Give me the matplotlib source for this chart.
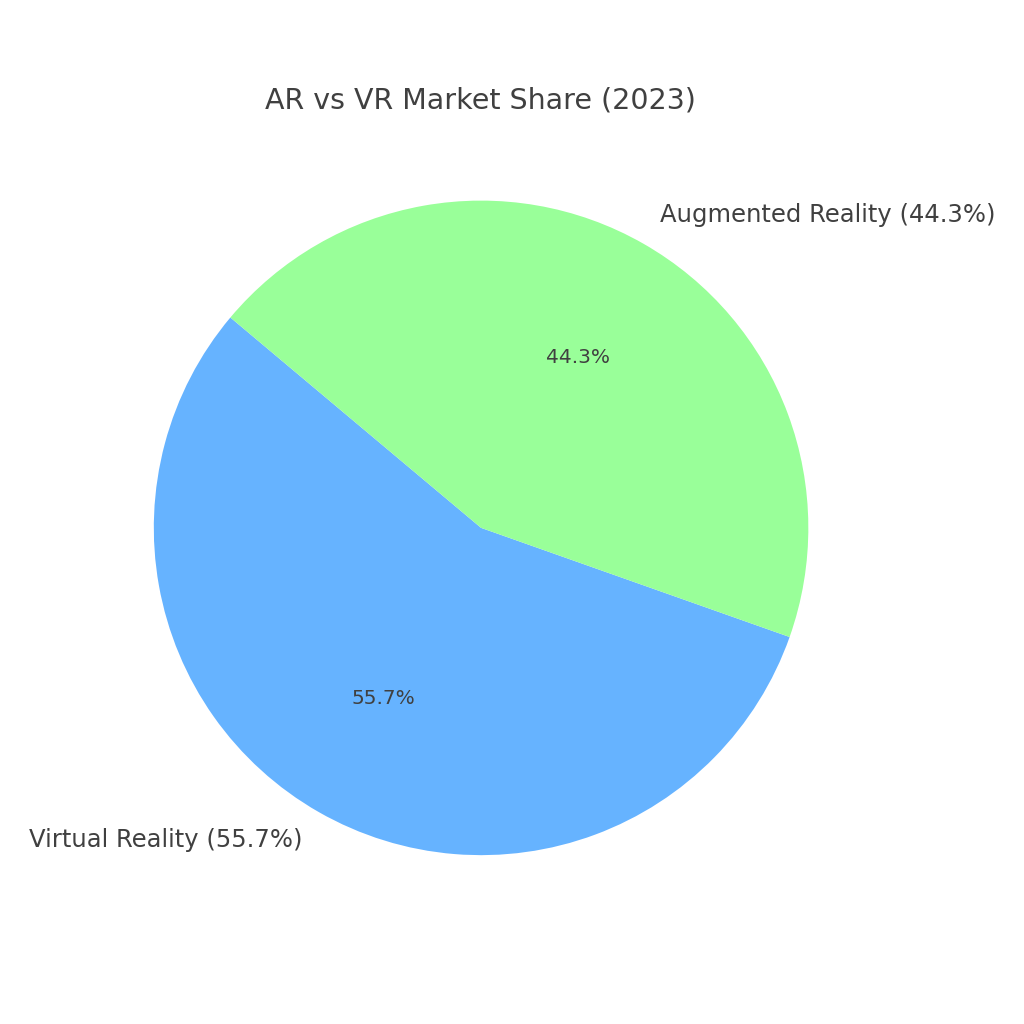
import matplotlib
matplotlib.use('Agg')
import matplotlib.pyplot as plt

# Market share data for 2023 (percent)
labels = ['Virtual Reality', 'Augmented Reality']
shares = [55.7, 44.3]
colors = ['#66b3ff', '#99ff99']

pie_labels = [f'{name} ({val}%)' for name, val in zip(labels, shares)]

plt.rcParams['text.color'] = '#404040'

fig = plt.figure(figsize=(10.24, 10.24), dpi=100)
ax = fig.add_axes([0.0703, 0.085, 0.799, 0.799])
ax.pie(shares, labels=pie_labels, colors=colors, autopct='%1.1f%%',
       startangle=140, textprops={'fontsize': 17.5})
for t in ax.texts:
    if t.get_text().endswith('%') and '(' not in t.get_text():
        t.set_fontsize(14.5)
ax.set_aspect('equal')
fig.text(0.4695, 0.902, 'AR vs VR Market Share (2023)', ha='center', va='center', fontsize=20.5)

fig.savefig('out.png', dpi=100)
